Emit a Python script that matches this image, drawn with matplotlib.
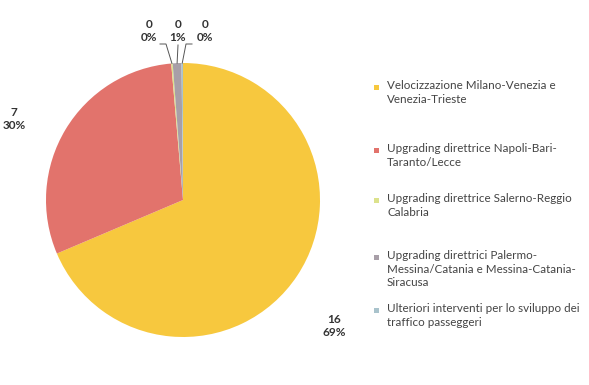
import matplotlib.pyplot as plt
import numpy as np

# Investimenti per direttrice (valori arrotondati nelle etichette)
categorie = [
    "Velocizzazione Milano-Venezia e\nVenezia-Trieste",
    "Upgrading direttrice Napoli-Bari-\nTaranto/Lecce",
    "Upgrading direttrice Salerno-Reggio\nCalabria",
    "Upgrading direttrici Palermo-\nMessina/Catania e Messina-Catania-\nSiracusa",
    "Ulteriori interventi per lo sviluppo dei\ntraffico passeggeri",
]
valori = [16.0, 7.0, 0.04, 0.24, 0.04]
colori = ["#F7C83E", "#E2736C", "#DCE28C", "#A89FA8", "#A9C3CC"]

plt.rcParams['font.family'] = ['Lato', 'DejaVu Sans']

W, H = 589, 385
fig = plt.figure(figsize=(W / 100, H / 100), dpi=100)

# pie centred at (183, 200) px with radius 137 px
cx, cy, r = 183, 200, 137
ax = fig.add_axes([(cx - r) / W, (H - cy - r) / H, 2 * r / W, 2 * r / H])
wedges, _ = ax.pie(valori, colors=colori, startangle=90, counterclock=False,
                   radius=1.0, wedgeprops=dict(linewidth=0))
ax.set_xlim(-1, 1)
ax.set_ylim(-1, 1)
ax.set_aspect('auto')
ax.axis('off')

totale = sum(valori)


def etichetta(v):
    return f"{v:.0f}\n{v / totale * 100:.0f}%"


def px(x, y):
    return (x / W, 1 - y / H)


lab_style = dict(ha='center', va='center', fontsize=8.5, color='#333333',
                 fontweight='bold', linespacing=1.2)

# large slices
fig.text(*px(334, 326), etichetta(valori[0]), **lab_style)
fig.text(*px(14, 119), etichetta(valori[1]), **lab_style)

# small slices at the top with leader lines
pos_small = [(149, 31), (178, 31), (205, 31)]
for i, (lx, ly) in zip([2, 3, 4], pos_small):
    fig.text(*px(lx, ly), etichetta(valori[i]), **lab_style)

w2, w3, w4 = wedges[2], wedges[3], wedges[4]


def edge_pt(w):
    a = np.deg2rad((w.theta1 + w.theta2) / 2)
    return cx + r * np.cos(a), cy - r * np.sin(a)


leaders = [
    [(160, 44), (166, 44), edge_pt(w2)],
    [(178, 45), edge_pt(w3)],
    [(192, 44), (186, 44), edge_pt(w4)],
]
for pts in leaders:
    xs = [p[0] / W for p in pts]
    ys = [1 - p[1] / H for p in pts]
    fig.add_artist(plt.Line2D(xs, ys, color='#555555', lw=0.7,
                              transform=fig.transFigure))

# legend
leg_top = [80, 143, 193, 250, 303]
for cat, col, top in zip(categorie, colori, leg_top):
    fig.text(*px(387, top), cat, ha='left', va='top', fontsize=8.4,
             color='#444444', linespacing=1.3)
    fig.add_artist(plt.Rectangle((374 / W, 1 - (top + 10) / H), 5 / W, 5 / H,
                                 facecolor=col, edgecolor='none',
                                 transform=fig.transFigure))

fig.savefig("out.png", dpi=100, facecolor='white')
